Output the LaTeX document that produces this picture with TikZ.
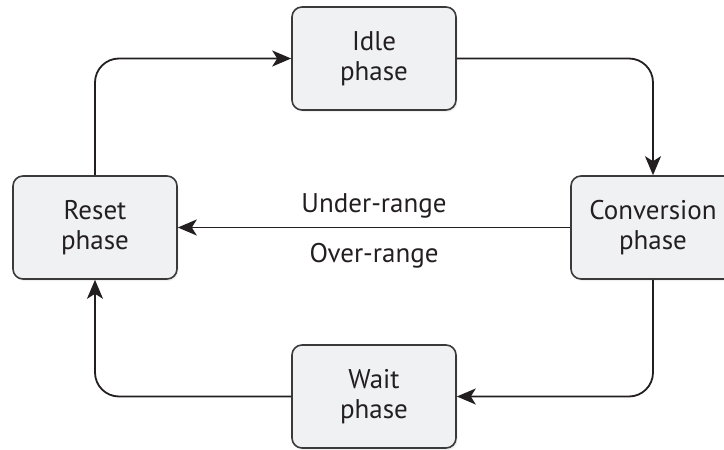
\documentclass[tikz,border=0pt]{standalone}
\usepackage{fontspec}
\setmainfont{PT Sans}
\usetikzlibrary{arrows.meta,shadows}
\definecolor{boxfill}{HTML}{F0F1F3}
\definecolor{boxdraw}{HTML}{3A3A3A}
\definecolor{linec}{HTML}{231F20}
\tikzset{
  phasebox/.style={draw=boxdraw, fill=boxfill, line width=1.6pt, rounded corners=10pt,
    minimum width=164pt, minimum height=103pt, align=center, inner sep=0pt,
    font=\fontsize{27}{30}\selectfont, text=linec,
    drop shadow={opacity=0.12, shadow xshift=1.5pt, shadow yshift=-2pt}},
  conn/.style={draw=linec, line width=1.8pt, rounded corners=24pt,
    -{Stealth[length=19pt, width=16pt, inset=5pt]}},
  lbl/.style={font=\fontsize{27}{30}\selectfont, text=linec, inner sep=0pt}
}
\begin{document}
\begin{tikzpicture}[x=1pt,y=-1pt]
\useasboundingbox (0,0) rectangle (724,450);
\node[phasebox] (idle)  at (374,58.5)  {Idle\\phase};
\node[phasebox] (conv)  at (653,227.5) {Conversion\\phase};
\node[phasebox] (reset) at (95,227.5)  {Reset\\phase};
\node[phasebox] (wait)  at (374,396.5) {Wait\\phase};
\draw[conn] (reset.north) |- (idle.west);
\draw[conn] (idle.east) -| (conv.north);
\draw[conn] (conv.south) |- (wait.east);
\draw[conn] (wait.west) -| (reset.south);
\draw[conn] (conv.west) -- (reset.east);
\node[lbl, anchor=base] (under) at (374,212) {Under-range};
\node[lbl, anchor=base] (over)  at (374,262) {Over-range};
\end{tikzpicture}
\end{document}
